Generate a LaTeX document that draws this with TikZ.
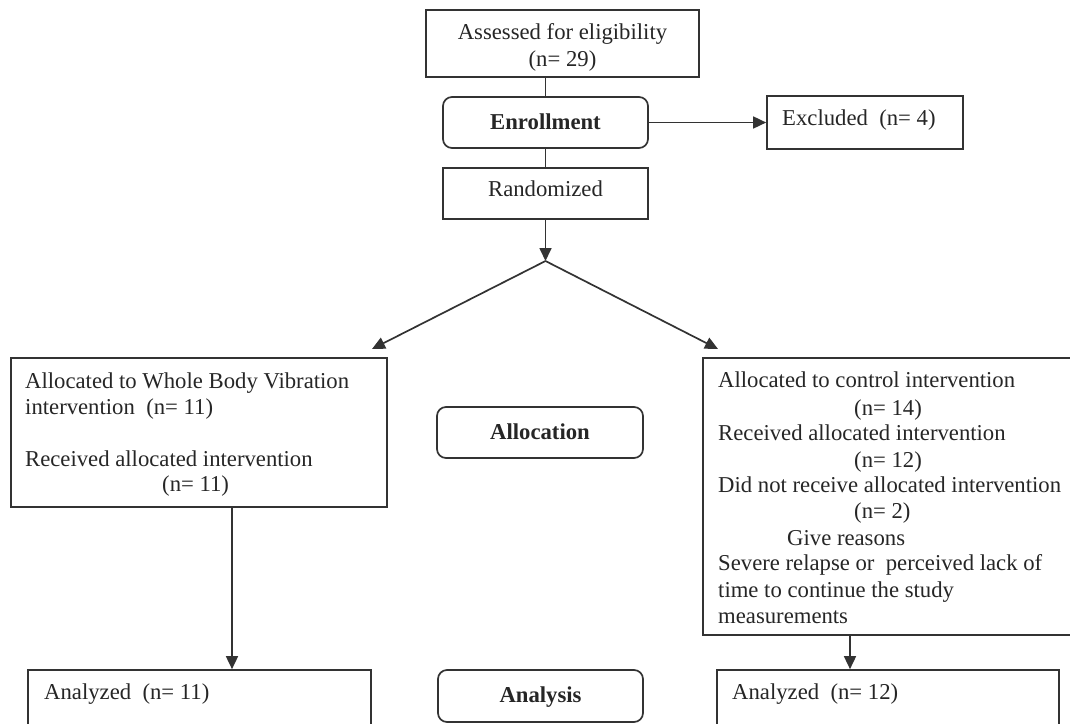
\documentclass[tikz,border=0pt]{standalone}
\usepackage{fontspec}
\setmainfont{Liberation Serif}
\usetikzlibrary{arrows.meta}
\definecolor{ln}{HTML}{333333}
\definecolor{tx}{HTML}{262626}
\tikzset{
  box/.style={draw=ln, line width=1.7pt, inner sep=0pt, rectangle},
  rbox/.style={box, rounded corners=9pt},
  txt/.style={inner sep=0pt, text=tx, font=\fontsize{22.7}{26}\selectfont},
  btxt/.style={txt, font=\fontsize{22.7}{26}\selectfont\bfseries},
  conn/.style={draw=ln, line width=1.7pt},
  arr/.style={conn, -{Triangle[length=13pt,width=12pt]}}
}
\begin{document}
\begin{tikzpicture}[x=1pt,y=-1pt]
\useasboundingbox (0,0) rectangle (1070,723);
\clip (0,0) rectangle (1070,723);
\fill[white] (0,0) rectangle (1070,723);
% boxes
\node[box, minimum width=273pt, minimum height=67pt] (assess) at (562.5,43.5) {};
\node[rbox, minimum width=205pt, minimum height=51pt] (enroll) at (545.5,122.5) {};
\node[box, minimum width=196pt, minimum height=53pt] (excl) at (865,122.5) {};
\node[box, minimum width=205pt, minimum height=51pt] (rand) at (545.5,193.5) {};
\node[box, minimum width=376pt, minimum height=149pt] (left) at (199,432.5) {};
\node[box, minimum width=387pt, minimum height=277pt] (right) at (896.5,496.5) {};
\node[rbox, minimum width=206pt, minimum height=51pt] (alloc) at (540,432.5) {};
\node[box, minimum width=343pt, minimum height=90pt] (lana) at (199.5,715) {};
\node[rbox, minimum width=205pt, minimum height=52pt] (anal) at (540.5,696) {};
\node[box, minimum width=342pt, minimum height=90pt] (rana) at (888,715) {};
% texts
\node[txt, anchor=base] (t1) at (562.5,39) {Assessed for eligibility};
\node[txt, anchor=base] (t2) at (562.5,66) {(n= 29)};
\node[btxt, anchor=base] (t3) at (545.5,129) {Enrollment};
\node[txt, anchor=base west] (t4) at (782,125) {Excluded\ \ (n= 4)};
\node[txt, anchor=base] (t5) at (545.5,196) {Randomized};
\node[txt, anchor=base west] (t6) at (25,388) {Allocated to Whole Body Vibration};
\node[txt, anchor=base west] (t7) at (25,414) {intervention\ \ (n= 11)};
\node[txt, anchor=base west] (t8) at (25,466) {Received allocated intervention};
\node[txt, anchor=base west] (t9) at (162,491) {(n= 11)};
\node[btxt, anchor=base] (t10) at (540,439) {Allocation};
\node[txt, anchor=base west] (r1) at (718,387) {Allocated to control intervention};
\node[txt, anchor=base west] (r2) at (854,415) {(n= 14)};
\node[txt, anchor=base west] (r3) at (718,440) {Received allocated intervention};
\node[txt, anchor=base west] (r4) at (854,467) {(n= 12)};
\node[txt, anchor=base west] (r5) at (718,492) {Did not receive allocated intervention};
\node[txt, anchor=base west] (r6) at (854,518) {(n= 2)};
\node[txt, anchor=base west] (r7) at (787,545) {Give reasons};
\node[txt, anchor=base west] (r8) at (718,570) {Severe relapse or\ \ perceived lack of};
\node[txt, anchor=base west] (r9) at (718,597) {time to continue the study};
\node[txt, anchor=base west] (r10) at (718,623) {measurements};
\node[txt, anchor=base west] (a1) at (44,699) {Analyzed\ \ (n= 11)};
\node[btxt, anchor=base] (a2) at (540.5,702) {Analysis};
\node[txt, anchor=base west] (a3) at (732,699) {Analyzed\ \ (n= 12)};
% connectors
\draw[conn] (enroll.north) -- (enroll.north |- assess.south);
\draw[conn] (enroll.south) -- (rand.north);
\draw[arr] (enroll.east) -- (excl.west);
\coordinate (split) at (545.5,261);
\coordinate (ltip) at (372,349);
\coordinate (rtip) at (718,349);
\draw[arr] (rand.south) -- (split);
\draw[arr] (split) -- (ltip);
\draw[arr] (split) -- (rtip);
\coordinate (ld) at (232,507);
\draw[arr] (ld) -- (ld |- lana.north);
\coordinate (rd) at (850,635);
\draw[arr] (rd) -- (rd |- rana.north);
\end{tikzpicture}
\end{document}
